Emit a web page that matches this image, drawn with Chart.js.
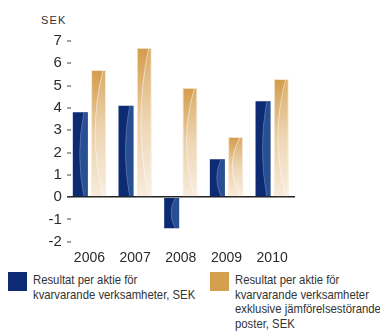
<!DOCTYPE html>
<html lang="sv">
<head>
<meta charset="utf-8">
<script src="https://cdn.jsdelivr.net/npm/chart.js@4/dist/chart.umd.min.js"></script>
<style>
  html, body { margin: 0; padding: 0; background: #fff; overflow: hidden; }
  body { width: 380px; height: 332px; position: relative; font-family: "Liberation Sans", Arial, sans-serif; }
  #unit { position: absolute; left: 41px; top: 13.5px; font-size: 11px; letter-spacing: 1.2px; color: #333; line-height: 13px; }
  canvas { position: absolute; left: 0; top: 0; }
  .legend { position: absolute; top: 271px; }
  .swatch { position: absolute; left: 0; top: 1px; width: 19px; height: 19px; }
  .legend .txt { position: absolute; left: 25px; top: 2px; font-family: "Liberation Sans", Arial, sans-serif; font-size: 13px; line-height: 14.7px; color: #333; white-space: nowrap; transform: scaleX(0.87); transform-origin: 0 0; }
</style>
</head>
<body>
<div id="unit">SEK</div>
<canvas id="eps" width="380" height="262"></canvas>
<div class="legend" style="left:8px"><div class="swatch" style="background:#0c2b72"></div><div class="txt">Resultat per aktie för<br>kvarvarande verksamheter, SEK</div></div>
<div class="legend" style="left:210px"><div class="swatch" style="background:#d4a04e"></div><div class="txt">Resultat per aktie för<br>kvarvarande verksamheter<br>exklusive jämförelsestörande<br>poster, SEK</div></div>
<script>
// Earnings per share, SEK
const years = ['2006', '2007', '2008', '2009', '2010'];
const epsContinuing = [3.8, 4.1, -1.4, 1.7, 4.3];
const epsExclItems = [5.7, 6.7, 4.9, 2.7, 5.3];
const yMin = -2;
const yMax = 7;

const NAVY = '#0c2b72';
const GOLD_TOP = '#d39c4b';
const GOLD_BOTTOM = '#f8ecdd';

// Vertical gradient per gold bar, running from the bar's top to its base
function goldFill(ctx) {
  const chart = ctx.chart;
  const y = chart.scales.y;
  if (ctx.type !== 'data' || !y) return GOLD_TOP;
  const top = y.getPixelForValue(ctx.raw);
  const base = y.getPixelForValue(0);
  if (!isFinite(top) || !isFinite(base) || top === base) return GOLD_TOP;
  const g = chart.ctx.createLinearGradient(0, top, 0, base);
  g.addColorStop(0, GOLD_TOP);
  g.addColorStop(0.5, '#ebcfa6');
  g.addColorStop(1, GOLD_BOTTOM);
  return g;
}

// Curved highlight drawn inside every bar
const barSheen = {
  id: 'barSheen',
  afterDatasetsDraw(chart) {
    const c = chart.ctx;
    chart.data.datasets.forEach((ds, di) => {
      const meta = chart.getDatasetMeta(di);
      meta.data.forEach(bar => {
        const p = bar.getProps(['x', 'y', 'base', 'width'], true);
        const w = p.width;
        const left = p.x - w / 2, right = p.x + w / 2;
        const top = Math.min(p.y, p.base), bottom = Math.max(p.y, p.base);
        const mid = (top + bottom) / 2;
        c.save();
        c.beginPath();
        c.rect(left, top, w, bottom - top);
        c.clip();
        let xEnd, ctrl, fill, edge;
        if (di === 0) {
          xEnd = left + 0.74 * w; ctrl = left + 0.18 * w;
          fill = 'rgba(70,115,180,0.5)'; edge = 'rgba(130,160,210,0.45)';
        } else {
          xEnd = left + 0.8 * w; ctrl = left - 0.25 * w;
          fill = 'rgba(255,255,255,0.16)'; edge = 'rgba(255,255,255,0.5)';
        }
        c.beginPath();
        c.moveTo(xEnd, top);
        c.quadraticCurveTo(ctrl, mid, xEnd, bottom);
        c.lineTo(right, bottom);
        c.lineTo(right, top);
        c.closePath();
        c.fillStyle = fill;
        c.fill();
        c.beginPath();
        c.moveTo(xEnd, top);
        c.quadraticCurveTo(ctrl, mid, xEnd, bottom);
        c.strokeStyle = edge;
        c.lineWidth = 1;
        c.stroke();
        c.restore();
      });
    });
  }
};

new Chart(document.getElementById('eps'), {
  type: 'bar',
  data: {
    labels: years,
    datasets: [
      {
        label: 'Resultat per aktie för kvarvarande verksamheter, SEK',
        data: epsContinuing,
        backgroundColor: NAVY,
        borderWidth: 0
      },
      {
        label: 'Resultat per aktie för kvarvarande verksamheter exklusive jämförelsestörande poster, SEK',
        data: epsExclItems,
        backgroundColor: goldFill,
        borderColor: '#f6e6cf',
        borderWidth: 1,
        borderSkipped: 'bottom'
      }
    ]
  },
  plugins: [barSheen],
  options: {
    responsive: false,
    devicePixelRatio: 1,
    animation: false,
    categoryPercentage: 0.8,
    barPercentage: 0.82,
    layout: { padding: { top: 41, right: 85, left: 0, bottom: 0 } },
    plugins: {
      legend: { display: false },
      tooltip: { enabled: false }
    },
    scales: {
      x: {
        grid: { display: false },
        border: { display: false },
        ticks: {
          color: '#2b2b2b',
          padding: 0.5,
          font: { family: 'Liberation Sans', size: 14 }
        },
        afterFit(scale) { scale.height = 20.3; }
      },
      y: {
        min: yMin,
        max: yMax,
        border: { display: false },
        grid: {
          drawOnChartArea: true,
          drawTicks: true,
          tickLength: -4.5,
          tickColor: '#444',
          tickWidth: 1,
          color: ctx => (ctx.tick && ctx.tick.value === 0 ? '#222' : 'rgba(0,0,0,0)'),
          lineWidth: ctx => (ctx.tick && ctx.tick.value === 0 ? 1.6 : 0)
        },
        ticks: {
          stepSize: 1,
          padding: 9.2,
          color: '#2b2b2b',
          font: { family: 'Liberation Sans', size: 15 },
          callback: v => String(v)
        },
        afterFit(scale) { scale.width = 66.6; }
      }
    }
  }
});
</script>
</body>
</html>
